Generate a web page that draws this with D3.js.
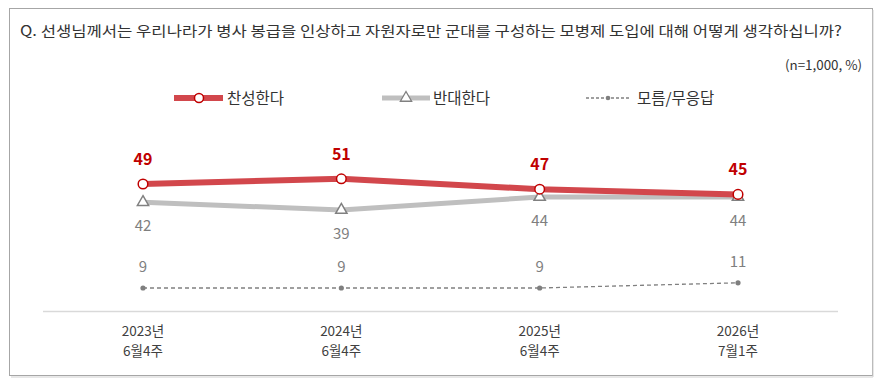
<!DOCTYPE html>
<html><head><meta charset="utf-8">
<script src="https://cdn.jsdelivr.net/npm/d3@7"></script>
<style>body{margin:0;background:#fff}svg{display:block}text{font-family:"Noto Sans CJK KR","Noto Sans",sans-serif}</style>
</head><body>
<script>
const categories = [["2023년","6월4주"],["2024년","6월4주"],["2025년","6월4주"],["2026년","7월1주"]];
const agree = [49, 51, 47, 45];
const disagree = [42, 39, 44, 44];
const unknown = [9, 9, 9, 11];
const seriesNames = ["찬성한다","반대한다","모름/무응답"];
const title = "Q. 선생님께서는 우리나라가 병사 봉급을 인상하고 자원자로만 군대를 구성하는 모병제 도입에 대해 어떻게 생각하십니까?";
const note = "(n=1,000, %)";

const W = 883, H = 383;
const svg = d3.select("body").append("svg").attr("width", W).attr("height", H);

// frame
svg.append("rect").attr("x", 9.5).attr("y", 8.5).attr("width", 863).attr("height", 367)
  .attr("fill", "#fff").attr("stroke", "#a6a6a6").attr("stroke-width", 1);
svg.append("line").attr("x1", 873).attr("x2", 873).attr("y1", 10).attr("y2", 377).attr("stroke", "#d0d0d0");
svg.append("line").attr("x1", 11).attr("x2", 873).attr("y1", 377).attr("y2", 377).attr("stroke", "#d0d0d0");

svg.append("text").attr("x", 20).attr("y", 36).attr("font-size", 14).attr("font-weight", 400).attr("fill", "#333")
  .attr("textLength", 822).attr("lengthAdjust", "spacingAndGlyphs").text(title);
svg.append("text").attr("x", 862).attr("y", 70).attr("text-anchor", "end").attr("font-size", 13)
  .attr("fill", "#333").attr("textLength", 77).attr("lengthAdjust", "spacingAndGlyphs").text(note);

const x = d3.scalePoint().domain(d3.range(categories.length)).range([143, 738]);
const y = d3.scaleLinear().domain([0, 60]).range([311.4, 155.4]);

// baseline axis
svg.append("line").attr("x1", 43).attr("x2", 838).attr("y1", y(0)).attr("y2", y(0))
  .attr("stroke", "#d9d9d9").attr("stroke-width", 1.5);

const xAxis = svg.append("g");
categories.forEach((c, i) => {
  const t = xAxis.append("text").attr("x", x(i)).attr("text-anchor", "middle").attr("font-size", 13.5).attr("fill", "#404040");
  t.append("tspan").attr("x", x(i)).attr("y", 336).text(c[0]);
  t.append("tspan").attr("x", x(i)).attr("y", 356).text(c[1]);
});

const line = d3.line().x((d, i) => x(i)).y(d => y(d));

// unknown series
svg.append("path").datum(unknown).attr("d", line).attr("fill", "none")
  .attr("stroke", "#808080").attr("stroke-width", 1.3).attr("stroke-dasharray", "4,3");
svg.selectAll(".uDot").data(unknown).enter().append("circle")
  .attr("cx", (d, i) => x(i)).attr("cy", d => y(d)).attr("r", 2.6).attr("fill", "#7f7f7f");
svg.selectAll(".uLab").data(unknown).enter().append("text")
  .attr("x", (d, i) => x(i)).attr("y", d => y(d) - 16).attr("text-anchor", "middle")
  .attr("font-size", 15).attr("fill", "#7f7f7f").text(d => d);

// disagree series
svg.append("path").datum(disagree).attr("d", line).attr("fill", "none")
  .attr("stroke", "#bfbfbf").attr("stroke-width", 5);
const tri = d3.symbol().type(d3.symbolTriangle).size(55);
svg.selectAll(".dSym").data(disagree).enter().append("path")
  .attr("d", tri).attr("transform", (d, i) => `translate(${x(i)},${y(d)})`)
  .attr("fill", "#fff").attr("stroke", "#808080").attr("stroke-width", 1.5);
svg.selectAll(".dLab").data(disagree).enter().append("text")
  .attr("x", (d, i) => x(i)).attr("y", d => y(d) + 29).attr("text-anchor", "middle")
  .attr("font-size", 15).attr("fill", "#7f7f7f").text(d => d);

// agree series
svg.append("path").datum(agree).attr("d", line).attr("fill", "none")
  .attr("stroke", "#d2474c").attr("stroke-width", 6);
svg.selectAll(".aSym").data(agree).enter().append("circle")
  .attr("cx", (d, i) => x(i)).attr("cy", d => y(d)).attr("r", 4.8)
  .attr("fill", "#fff").attr("stroke", "#c00000").attr("stroke-width", 1.5);
svg.selectAll(".aLab").data(agree).enter().append("text")
  .attr("x", (d, i) => x(i)).attr("y", d => y(d) - 19).attr("text-anchor", "middle")
  .attr("font-size", 16).attr("font-weight", "bold").attr("fill", "#c00000").text(d => d);

// legend
const lg = svg.append("g");
lg.append("line").attr("x1", 174).attr("x2", 223).attr("y1", 98).attr("y2", 98).attr("stroke", "#d2474c").attr("stroke-width", 6);
lg.append("circle").attr("cx", 199).attr("cy", 98).attr("r", 4.5).attr("fill", "#fff").attr("stroke", "#c00000").attr("stroke-width", 1.5);
lg.append("text").attr("x", 227).attr("y", 104).attr("font-size", 15.5).attr("fill", "#333").text(seriesNames[0]);
lg.append("line").attr("x1", 382).attr("x2", 430).attr("y1", 98).attr("y2", 98).attr("stroke", "#bfbfbf").attr("stroke-width", 5);
lg.append("path").attr("d", tri).attr("transform", "translate(406,98)").attr("fill", "#fff").attr("stroke", "#808080").attr("stroke-width", 1.3);
lg.append("text").attr("x", 433).attr("y", 104).attr("font-size", 15.5).attr("fill", "#333").text(seriesNames[1]);
lg.append("line").attr("x1", 586).attr("x2", 630).attr("y1", 98).attr("y2", 98).attr("stroke", "#808080").attr("stroke-width", 1.3).attr("stroke-dasharray", "3,2");
lg.append("circle").attr("cx", 608).attr("cy", 98).attr("r", 2.3).attr("fill", "#7f7f7f");
lg.append("text").attr("x", 637).attr("y", 104).attr("font-size", 15.5).attr("fill", "#333").text(seriesNames[2]);
</script>
</body></html>
